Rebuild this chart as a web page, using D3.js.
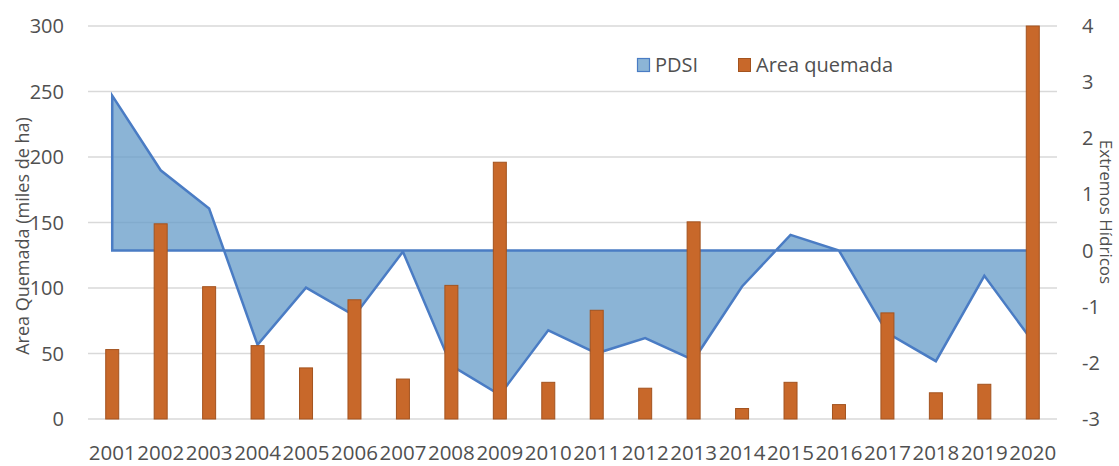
<!DOCTYPE html>
<html>
<head>
<meta charset="utf-8">
<script src="https://cdn.jsdelivr.net/npm/d3@7"></script>
<style>
  body { margin: 0; background: #fff; }
  text { font-family: "Open Sans", sans-serif; fill: #505050; }
</style>
</head>
<body>
<svg id="chart" width="1119" height="466"></svg>
<script>
const years = ['2001', '2002', '2003', '2004', '2005', '2006', '2007', '2008', '2009', '2010',
  '2011', '2012', '2013', '2014', '2015', '2016', '2017', '2018', '2019', '2020'];

// burned area, thousands of ha (left axis)
const areaQuemada = [53, 149, 101, 56, 39, 91, 30.5, 102, 196, 28,
  83, 23.5, 150.5, 8, 28, 11, 81, 20, 26.5, 300];

// PDSI (right axis)
const pdsi = [2.76, 1.43, 0.75, -1.68, -0.66, -1.16, -0.02, -2.05, -2.57, -1.42,
  -1.83, -1.56, -1.95, -0.64, 0.28, 0, -1.47, -1.97, -0.45, -1.62];

const leftTicks = [0, 50, 100, 150, 200, 250, 300];
const rightTicks = [-3, -2, -1, 0, 1, 2, 3, 4];

const svg = d3.select('#chart');

const x = d3.scaleBand().domain(years).range([88, 1057]);
const yL = d3.scaleLinear().domain([0, 300]).range([419, 26]);
const yR = d3.scaleLinear().domain([-3, 4]).range([419, 26]);
const cx = (d) => x(d) + x.bandwidth() / 2;

// gridlines
svg.append('g')
  .selectAll('line')
  .data(leftTicks)
  .join('line')
    .attr('x1', 88)
    .attr('x2', 1057)
    .attr('y1', (d) => yL(d))
    .attr('y2', (d) => yL(d))
    .attr('stroke', '#d9d9d9')
    .attr('stroke-width', 1.3);

// left axis labels
svg.append('g')
  .selectAll('text')
  .data(leftTicks)
  .join('text')
    .attr('x', 64)
    .attr('y', (d) => yL(d))
    .attr('dy', '0.35em')
    .attr('text-anchor', 'end')
    .style('font-size', '20px')
    .text((d) => d);

// right axis labels
svg.append('g')
  .selectAll('text')
  .data(rightTicks)
  .join('text')
    .attr('x', 1082)
    .attr('y', (d) => yR(d))
    .attr('dy', '0.35em')
    .style('font-size', '20px')
    .text((d) => d);

// PDSI area, outline closes on the zero line
const area = d3.area()
  .x((d, i) => cx(years[i]))
  .y0(yR(0))
  .y1((d) => yR(d));

svg.append('path')
  .datum(pdsi)
  .attr('d', area)
  .attr('fill', '#649bc8')
  .attr('fill-opacity', 0.75)
  .attr('stroke', '#4a7cc4')
  .attr('stroke-width', 2.5)
  .attr('stroke-linejoin', 'miter');

// burned area bars
const barW = 13;
svg.append('g')
  .selectAll('rect')
  .data(areaQuemada)
  .join('rect')
    .attr('x', (d, i) => cx(years[i]) - barW / 2)
    .attr('y', (d) => yL(d))
    .attr('width', barW)
    .attr('height', (d) => yL(0) - yL(d))
    .attr('fill', '#c8682a')
    .attr('stroke', '#a3531f')
    .attr('stroke-width', 1);

// year labels
svg.append('g')
  .selectAll('text')
  .data(years)
  .join('text')
    .attr('x', (d) => cx(d))
    .attr('y', 460)
    .attr('text-anchor', 'middle')
    .style('font-size', '20.5px')
    .text((d) => d);

// axis titles
svg.append('text')
  .attr('transform', 'translate(29,236) rotate(-90)')
  .attr('text-anchor', 'middle')
  .style('font-size', '18px')
  .text('Area Quemada (miles de ha)');

svg.append('text')
  .attr('transform', 'translate(1100,212) rotate(90)')
  .attr('text-anchor', 'middle')
  .style('font-size', '17px')
  .text('Extremos Hídricos');

// legend
const legend = svg.append('g');
legend.append('rect')
  .attr('x', 637.5).attr('y', 58.5).attr('width', 12).attr('height', 13)
  .attr('fill', '#8cb5d6').attr('stroke', '#4a7cc4').attr('stroke-width', 1.2);
legend.append('text')
  .attr('x', 655).attr('y', 72)
  .style('font-size', '20px')
  .text('PDSI');
legend.append('rect')
  .attr('x', 738.5).attr('y', 58.5).attr('width', 12).attr('height', 13)
  .attr('fill', '#c8682a').attr('stroke', '#a3531f').attr('stroke-width', 1);
legend.append('text')
  .attr('x', 756).attr('y', 72)
  .style('font-size', '20px')
  .text('Area quemada');
</script>
</body>
</html>
